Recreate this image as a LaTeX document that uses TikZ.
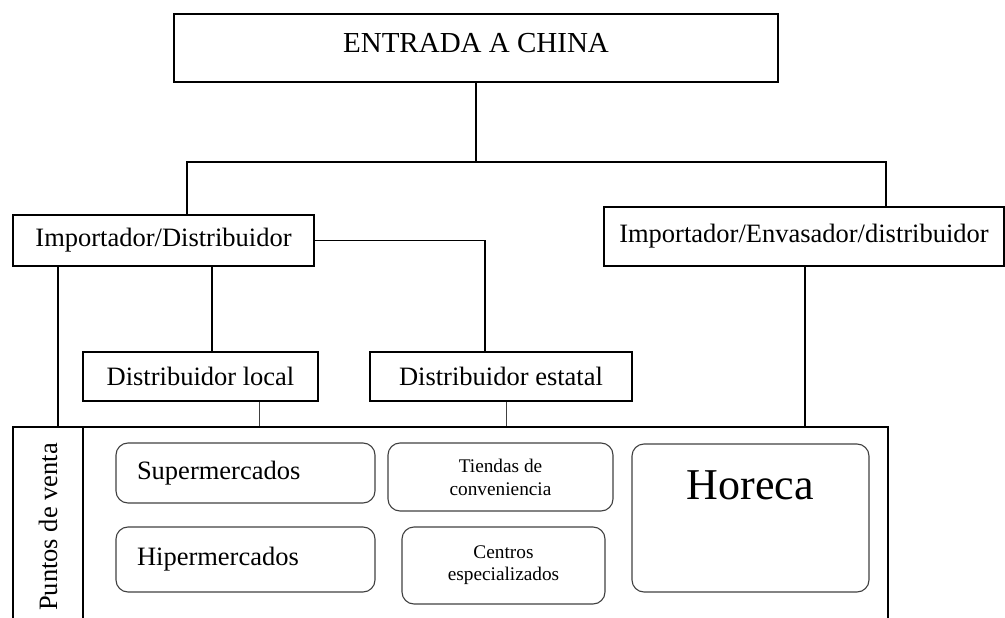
\documentclass[tikz,border=0pt]{standalone}
\usepackage{fontspec}
\setmainfont{Liberation Serif}
\begin{document}
\begin{tikzpicture}[x=1pt,y=-1pt]
    \tikzset{Caja/.style={%
        shape=rectangle,%
        draw=black,%
        line width=1.5pt,%
        inner sep=0pt,%
        font=\fontsize{26.5}{30}\selectfont,%
    }}
    \tikzset{Redonda/.style={%
        shape=rectangle,%
        draw=black!75,%
        line width=1.1pt,%
        rounded corners=12pt,%
        inner sep=0pt,%
        align=center,%
        font=\fontsize{26.5}{30}\selectfont,%
    }}
    \tikzset{Linea/.style={line width=1.5pt}}
    \tikzset{Fina/.style={line width=1pt, draw=black!75}}

    \useasboundingbox (0,0) rectangle (1005,618);

    \node[Caja, minimum width=604, minimum height=68, text depth=10pt, font=\fontsize{29}{32}\selectfont] (ent) at (476,48) {ENTRADA A CHINA};
    \node[Caja, minimum width=301, minimum height=51] (imp) at (163.5,240.5) {Importador/Distribuidor};
    \node[Caja, minimum width=400, minimum height=59] (env) at (804,236.5) {Importador/Envasador/distribuidor};
    \node[Caja, minimum width=235, minimum height=49] (loc) at (200.5,376.5) {Distribuidor local};
    \node[Caja, minimum width=262, minimum height=49] (est) at (501,376.5) {Distribuidor estatal};

    \node[Caja, minimum width=875, minimum height=200] (pv) at (450.5,527) {};
    \node[Caja, rotate=90, minimum width=200, minimum height=70] (pvt) at (48,527) {Puntos de venta};

    \node[Redonda, minimum width=259, minimum height=60, text width=217, align=left] (sup) at (245.5,473) {Supermercados};
    \node[Redonda, minimum width=259, minimum height=65, text width=217, align=left] (hip) at (245.5,559.5) {Hipermercados};
    \node[Redonda, minimum width=225, minimum height=68, font=\fontsize{19.3}{23}\selectfont] (tie) at (500.5,477) {Tiendas de\\conveniencia};
    \node[Redonda, minimum width=203, minimum height=77, font=\fontsize{19.3}{22}\selectfont] (cen) at (503.5,565.5) {Centros\\especializados};
    \node[Redonda, minimum width=237, minimum height=148, text depth=65pt, font=\fontsize{44}{48}\selectfont] (hor) at (750.5,518) {Horeca};

    % ramas principales
    \coordinate (bus) at (476,162);
    \draw[Linea] (ent.south) -- (bus);
    \draw[Linea] ([xshift=23.5pt]imp.north) |- (bus) -| ([xshift=82pt]env.north);
    \draw[Linea] (imp.east) -| ([xshift=-16pt]est.north);

    % bajadas a puntos de venta
    \path ([xshift=-105.5pt]imp.south) coordinate (b1);
    \path ([xshift=48.5pt]imp.south) coordinate (b2);
    \path ([xshift=58.5pt]loc.south) coordinate (b3);
    \path ([xshift=5pt]est.south) coordinate (b4);
    \path ([xshift=1pt]env.south) coordinate (b5);
    \draw[Linea] (b1) -- (b1 |- pv.north);
    \draw[Linea] (b2) -- (b2 |- loc.north);
    \draw[Fina] (b3) -- (b3 |- pv.north);
    \draw[Fina] (b4) -- (b4 |- pv.north);
    \draw[Linea] (b5) -- (b5 |- pv.north);
\end{tikzpicture}
\end{document}
